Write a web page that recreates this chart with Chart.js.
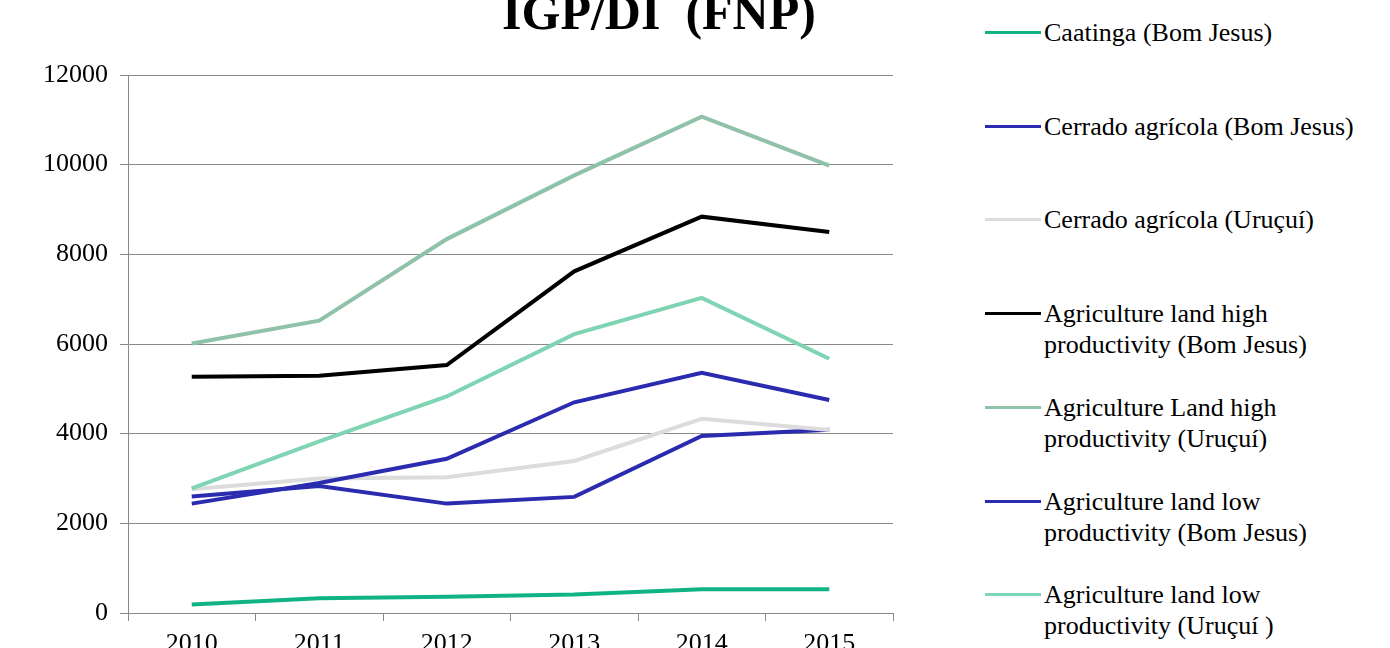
<!DOCTYPE html>
<html>
<head>
<meta charset="utf-8">
<script src="https://cdn.jsdelivr.net/npm/chart.js@4"></script>
<style>
  body { margin: 0; background: #fff; width: 1390px; height: 648px; overflow: hidden; position: relative; font-family: "Liberation Serif", "Times New Roman", serif; }
  #wrap { position: absolute; left: 0; top: 0; width: 900px; height: 648px; }
  #title { position: absolute; left: 0; top: -13px; width: 1318px; text-align: center; font-size: 50px; line-height: 50px; font-weight: bold; white-space: pre; }
  #legend { position: absolute; left: 985px; top: 0; }
  .item { position: absolute; left: 0; width: 400px; }
  .swatch { position: absolute; left: 0; top: 14px; width: 56px; height: 3px; }
  .label { position: absolute; left: 59px; top: 0; font-size: 26px; line-height: 31px; white-space: nowrap; color: #000; }
</style>
</head>
<body>
<div id="title">IGP/DI  (FNP)</div>
<div id="wrap"><canvas id="igpChart"></canvas></div>
<div id="legend"></div>
<script>
// Data
const years = ['2010', '2011', '2012', '2013', '2014', '2015'];
const caatingaBJ = [190, 330, 360, 410, 530, 530];
const cerradoBJ = [2600, 2830, 2440, 2590, 3950, 4090];
const cerradoUR = [2760, 3000, 3030, 3390, 4330, 4080];
const highBJ = [5270, 5290, 5530, 7620, 8840, 8500];
const highUR = [6010, 6520, 8340, 9760, 11070, 9980];
const lowBJ = [2440, 2900, 3440, 4700, 5360, 4750];
const lowUR = [2780, 3830, 4830, 6220, 7030, 5670];
const yTicks = [0, 2000, 4000, 6000, 8000, 10000, 12000];

const seriesNames = [
    ['Caatinga (Bom Jesus)'],
    ['Cerrado agrícola (Bom Jesus)'],
    ['Cerrado agrícola (Uruçuí)'],
    ['Agriculture land high', 'productivity (Bom Jesus)'],
    ['Agriculture Land high', 'productivity (Uruçuí)'],
    ['Agriculture land low', 'productivity (Bom Jesus)'],
    ['Agriculture land low', 'productivity (Uruçuí )']
];
const seriesValues = [caatingaBJ, cerradoBJ, cerradoUR, highBJ, highUR, lowBJ, lowUR];
const seriesColors = ['#10b386', '#2b2bb0', '#dcdcdc', '#000000', '#8fc2a9', '#2b2bb0', '#7fd4b4'];
const legendY = [32, 126, 219, 313, 407, 501, 594];

document.addEventListener('DOMContentLoaded', () => {
    const ctx = document.getElementById('igpChart').getContext('2d');
    const gridColor = '#8a8a8a';

    const datasets = seriesValues.map((vals, i) => ({
        label: seriesNames[i].join(' '),
        data: vals,
        borderColor: seriesColors[i],
        backgroundColor: seriesColors[i],
        borderWidth: 4,
        pointRadius: 0,
        tension: 0,
        fill: false,
        order: seriesValues.length - i
    }));

    const chart = new Chart(ctx, {
        type: 'line',
        data: { labels: years, datasets: datasets },
        options: {
            responsive: true,
            maintainAspectRatio: false,
            animation: false,
            layout: { padding: { top: 75, right: 7, left: 0, bottom: 0 } },
            plugins: { legend: { display: false }, tooltip: { enabled: false } },
            scales: {
                x: {
                    offset: true,
                    grid: { offset: true, drawOnChartArea: false, drawTicks: true, tickLength: 8, color: gridColor },
                    border: { color: gridColor },
                    ticks: { color: '#000', padding: 8, font: { family: 'Liberation Serif', size: 26 } },
                    afterFit: (scale) => { scale.height = 35; }
                },
                y: {
                    min: 0,
                    max: 12000,
                    afterBuildTicks: (scale) => { scale.ticks = yTicks.map(v => ({ value: v })); },
                    grid: { color: gridColor, tickLength: 8 },
                    border: { color: gridColor },
                    ticks: {
                        color: '#000', padding: 12, font: { family: 'Liberation Serif', size: 26 },
                        callback: (v) => String(v)
                    },
                    afterFit: (scale) => { scale.width = 128; }
                }
            }
        }
    });

    // Build the legend from the chart's datasets
    const legend = document.getElementById('legend');
    chart.data.datasets.forEach((ds, i) => {
        const item = document.createElement('div');
        item.className = 'item';
        item.style.top = (legendY[i] - 15) + 'px';
        const sw = document.createElement('div');
        sw.className = 'swatch';
        sw.style.background = ds.borderColor;
        const lab = document.createElement('div');
        lab.className = 'label';
        lab.innerHTML = seriesNames[i].join('<br>');
        item.appendChild(sw);
        item.appendChild(lab);
        legend.appendChild(item);
    });
});
</script>
</body>
</html>
